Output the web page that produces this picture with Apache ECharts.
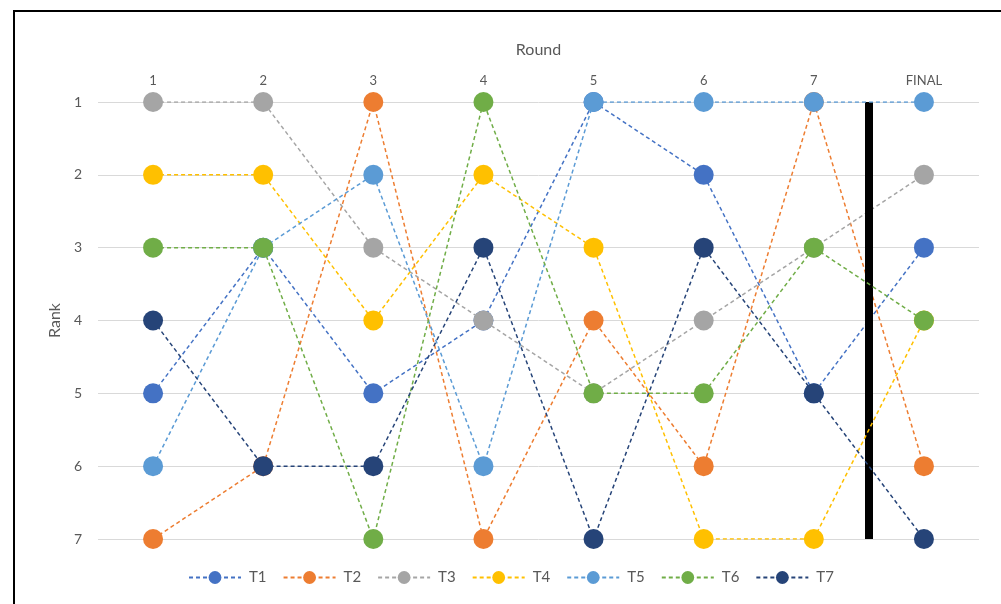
<!DOCTYPE html>
<html>
<head>
<meta charset="utf-8">
<script src="https://cdn.jsdelivr.net/npm/echarts@6/dist/echarts.min.js"></script>
<style>
  html, body { margin: 0; padding: 0; background: #fff; }
  #frame { position: absolute; left: 13px; top: 10px; width: 1000px; height: 610px; border: 2px solid #000; box-sizing: border-box; }
  #chart { position: absolute; left: 0; top: 0; width: 1001px; height: 604px; }
</style>
</head>
<body>
<div id="frame"></div>
<div id="chart"></div>
<script>
// Rounds along the top axis
const rounds = ['1', '2', '3', '4', '5', '6', '7', 'FINAL'];
// Rank of each team after every round
const t1 = [5, 3, 5, 4, 1, 2, 5, 3];
const t2 = [7, 6, 1, 7, 4, 6, 1, 6];
const t3 = [1, 1, 3, 4, 5, 4, 3, 2];
const t4 = [2, 2, 4, 2, 3, 7, 7, 4];
const t5 = [6, 3, 2, 6, 1, 1, 1, 1];
const t6 = [3, 3, 7, 1, 5, 5, 3, 4];
const t7 = [4, 6, 6, 3, 7, 3, 5, 7];
const teamNames = ['T1', 'T2', 'T3', 'T4', 'T5', 'T6', 'T7'];
const teamRanks = [t1, t2, t3, t4, t5, t6, t7];
const teamColors = ['#4472C4', '#ED7D31', '#A5A5A5', '#FFC000', '#5B9BD5', '#70AD47', '#264478'];
// Divider between the last round and the final standings (position on the round scale)
const dividerAt = 6.5;
const rankRange = [1, 7];

const font = 'Lato, "Open Sans", sans-serif';
const chart = echarts.init(document.getElementById('chart'));

const series = teamNames.map((name, i) => ({
  name: name,
  type: 'line',
  data: teamRanks[i],
  xAxisIndex: 0,
  color: teamColors[i],
  symbol: 'circle',
  symbolSize: 20,
  lineStyle: { type: [4, 3], width: 1.5, color: teamColors[i] },
  itemStyle: { color: teamColors[i] },
  emphasis: { disabled: true },
  animation: false,
  z: 2 + i
}));

// Thick black separator drawn on a hidden numeric round scale
series.push({
  name: 'divider',
  type: 'line',
  xAxisIndex: 1,
  data: [],
  silent: true,
  animation: false,
  markLine: {
    symbol: 'none',
    silent: true,
    animation: false,
    label: { show: false },
    lineStyle: { color: '#000', width: 8, type: 'solid' },
    data: [[{ coord: [dividerAt, rankRange[0]] }, { coord: [dividerAt, rankRange[1]] }]]
  },
  z: 1
});

chart.setOption({
  backgroundColor: 'transparent',
  animation: false,
  textStyle: { fontFamily: font },
  grid: { left: 98, right: 22, top: 102, bottom: 65, containLabel: false },
  legend: {
    data: teamNames,
    bottom: 14,
    left: 183,
    itemWidth: 52,
    itemHeight: 16,
    itemGap: 16,
    textStyle: { color: '#595959', fontSize: 15, fontFamily: font, padding: [0, 0, 0, 3] }
  },
  xAxis: [{
    type: 'category',
    data: rounds,
    position: 'top',
    boundaryGap: true,
    name: 'Round',
    nameLocation: 'middle',
    nameGap: 52,
    nameTextStyle: { color: '#595959', fontSize: 16, fontFamily: font, padding: [0, 0, -8, 0] },
    axisLine: { show: false },
    axisTick: { show: false },
    axisLabel: { color: '#595959', fontSize: 13, margin: 15, fontFamily: font },
    splitLine: { show: false }
  }, {
    type: 'value',
    min: -0.5,
    max: 7.5,
    show: false
  }],
  yAxis: {
    type: 'value',
    inverse: true,
    min: rankRange[0],
    max: rankRange[1],
    interval: 1,
    name: 'Rank',
    nameLocation: 'middle',
    nameGap: 32,
    nameRotate: 90,
    nameTextStyle: { color: '#595959', fontSize: 16, fontFamily: font },
    axisLine: { show: false },
    axisTick: { show: false },
    axisLabel: { color: '#595959', fontSize: 14, margin: 16, fontFamily: font },
    splitLine: { lineStyle: { color: '#D9D9D9', width: 1 } }
  },
  series: series
});
</script>
</body>
</html>
